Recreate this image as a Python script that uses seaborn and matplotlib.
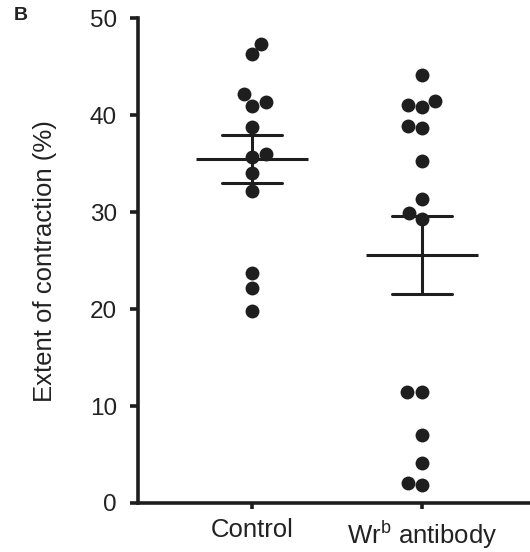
import pandas as pd
import matplotlib
matplotlib.use("Agg")
import matplotlib.pyplot as plt
import seaborn as sns

# values (% contraction per sample)
control = [47.4, 46.3, 42.2, 41.4, 41.0, 38.8, 36.0, 35.7, 34.0, 32.2, 23.7, 22.2, 19.8]
wrb = [44.2, 41.5, 41.1, 40.9, 38.9, 38.7, 35.3, 31.4, 29.9, 29.3,
       11.4, 11.4, 7.0, 4.1, 2.1, 1.9]
groups = ["Control", "Wr$^\\mathregular{b}$ antibody"]
yticks = [0, 10, 20, 30, 40, 50]

df = pd.DataFrame({
    "group": [groups[0]] * len(control) + [groups[1]] * len(wrb),
    "value": control + wrb,
})

sns.set_style("ticks")
plt.rcParams["font.family"] = ["Liberation Sans", "DejaVu Sans"]
ink = "#1e1e1e"

fig = plt.figure(figsize=(5.3, 5.52), dpi=100)
ax = fig.add_axes([0.26, 0.0888, 0.74, 0.878])

sns.swarmplot(data=df, x="group", y="value", order=groups, color=ink,
              size=10, linewidth=0, ax=ax, zorder=2)

# mean +/- SEM
sns.pointplot(data=df, x="group", y="value", order=groups, errorbar="se",
              capsize=0.35, linestyle="none", marker="_", markersize=81,
              markeredgewidth=2.2, color=ink, err_kws={"linewidth": 2.2},
              ax=ax, zorder=3)

ax.set_xlim(-0.67, 1.635)
ax.set_ylim(0, 50)
ax.set_yticks(yticks)
ax.set_xlabel("")
ax.set_ylabel("Extent of contraction (%)", fontsize=18.5, color="#222222", labelpad=24)
sns.despine(ax=ax)
for side in ["left", "bottom"]:
    ax.spines[side].set_linewidth(2.6)
    ax.spines[side].set_color(ink)
ax.tick_params(axis="y", length=6, width=2.6, color=ink, pad=9,
               labelsize=17.5, labelcolor="#222222")
ax.tick_params(axis="x", length=4, width=2.6, color=ink, pad=7,
               labelsize=18.5, labelcolor="#222222")

fig.text(0.026, 0.987, "B", fontsize=14, fontweight="bold", color="#222222",
         va="top", ha="left")

fig.savefig("out.png", dpi=100)
